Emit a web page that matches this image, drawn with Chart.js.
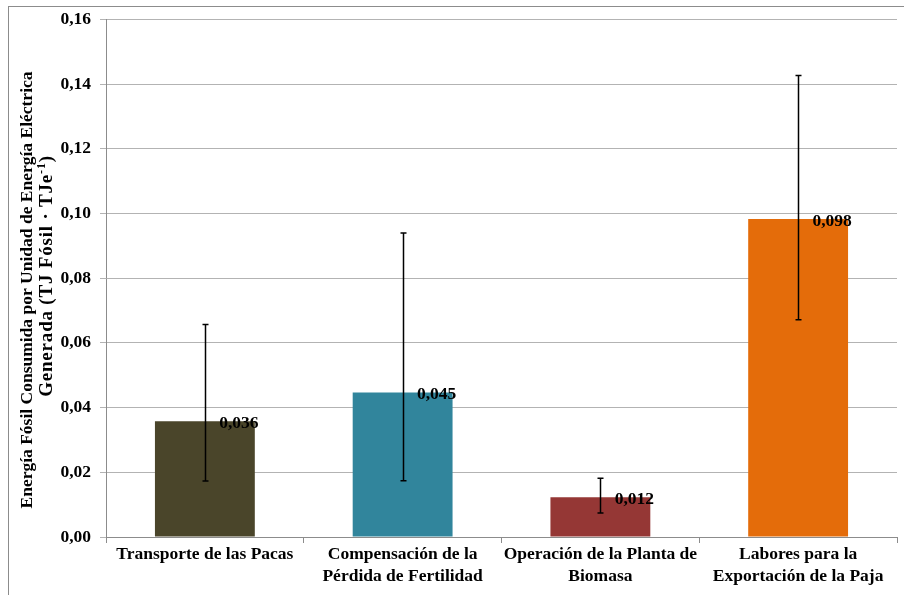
<!DOCTYPE html>
<html>
<head>
<meta charset="utf-8">
<script src="https://cdn.jsdelivr.net/npm/chart.js@4/dist/chart.umd.min.js"></script>
<style>
  body { margin: 0; background: #fff; }
  #wrap { position: relative; width: 904px; height: 595px; }
</style>
</head>
<body>
<div id="wrap"><canvas id="chart" width="904" height="595"></canvas></div>
<script>
let categories = [
  ["Transporte de las Pacas"],
  ["Compensación de la", "Pérdida de Fertilidad"],
  ["Operación de la Planta de", "Biomasa"],
  ["Labores para la", "Exportación de la Paja"]
];
let values = [0.0358, 0.0447, 0.0123, 0.0983];
let errLow = [0.0173, 0.0174, 0.0074, 0.0672];
let errHigh = [0.0657, 0.0940, 0.0182, 0.1427];
let barColors = ["#4A452A", "#31859C", "#953735", "#E46C0A"];
let yTitle = ["Energía Fósil Consumida por Unidad de Energía Eléctrica", "Generada (TJ Fósil · TJe", "-1", ")"];

const serif = "'Liberation Serif', 'Times New Roman', serif";
const fs = 17.5;

function fmt(v, d) {
  return v.toFixed(d).replace(".", ",");
}

// border around the whole chart, like the Excel chart frame
const frame = {
  id: "frame",
  beforeDraw(chart) {
    let ctx = chart.ctx;
    ctx.save();
    ctx.fillStyle = "#fff";
    ctx.fillRect(0, 0, chart.width, chart.height);
    ctx.strokeStyle = "#8c8c8c";
    ctx.lineWidth = 1;
    ctx.strokeRect(8.5, 6.5, chart.width + 20, chart.height + 20);
    ctx.restore();
  }
};

// error bars + value labels + y title
const extras = {
  id: "extras",
  afterDatasetsDraw(chart) {
    let ctx = chart.ctx;
    let y = chart.scales.y;
    let meta = chart.getDatasetMeta(0);
    ctx.save();
    ctx.strokeStyle = "#000";
    ctx.lineWidth = 1.5;
    meta.data.forEach((bar, i) => {
      let x = Math.round(bar.x) + 0.5;
      let top = y.getPixelForValue(errHigh[i]);
      let bot = y.getPixelForValue(errLow[i]);
      ctx.beginPath();
      ctx.moveTo(x, top);
      ctx.lineTo(x, bot);
      ctx.moveTo(x - 3, top);
      ctx.lineTo(x + 3, top);
      ctx.moveTo(x - 3, bot);
      ctx.lineTo(x + 3, bot);
      ctx.stroke();
    });
    ctx.fillStyle = "#000";
    ctx.font = "bold " + fs + "px " + serif;
    ctx.textAlign = "center";
    ctx.textBaseline = "middle";
    meta.data.forEach((bar, i) => {
      ctx.fillText(fmt(values[i], 3), bar.x + 34, bar.y + 2);
    });

    // y axis title (two lines, with superscript)
    ctx.translate(0, 290);
    ctx.rotate(-Math.PI / 2);
    ctx.textAlign = "center";
    ctx.textBaseline = "alphabetic";
    ctx.fillText(yTitle[0], 0, 32);
    let big = "bold 19px " + serif, small = "bold 12px " + serif;
    let a = yTitle[1], sup = yTitle[2], c = yTitle[3];
    ctx.letterSpacing = "0.8px";
    ctx.font = big;
    let wa = ctx.measureText(a).width;
    let wc = ctx.measureText(c).width;
    ctx.font = small;
    let ws = ctx.measureText(sup).width;
    let start = 14 - (wa + ws + wc) / 2;
    ctx.textAlign = "left";
    ctx.font = big;
    ctx.fillText(a, start, 52);
    ctx.fillText(c, start + wa + ws, 52);
    ctx.font = small;
    ctx.fillText(sup, start + wa, 45);
    ctx.restore();
  }
};

new Chart(document.getElementById("chart"), {
  type: "bar",
  data: {
    labels: categories,
    datasets: [{
      data: values,
      backgroundColor: barColors,
      borderWidth: 0,
      categoryPercentage: 0.505,
      barPercentage: 1
    }]
  },
  options: {
    responsive: false,
    animation: false,
    devicePixelRatio: 1,
    layout: { padding: { left: 0, top: 18, right: 7, bottom: 0 } },
    plugins: {
      legend: { display: false },
      tooltip: { enabled: false },
      title: { display: false }
    },
    scales: {
      y: {
        min: 0,
        max: 0.16,
        afterFit(scale) { scale.width = 106; },
        ticks: {
          stepSize: 0.02,
          padding: 9,
          color: "#000",
          font: { family: serif, size: fs, weight: "bold" },
          callback: (v) => fmt(v, 2)
        },
        grid: { color: "#b3b3b3", lineWidth: 1, tickLength: 6 },
        border: { color: "#8c8c8c" }
      },
      x: {
        afterFit(scale) { scale.height = 58; },
        ticks: {
          padding: 1,
          color: "#000",
          maxRotation: 0,
          autoSkip: false,
          font: { family: serif, size: fs, weight: "bold", lineHeight: 1.22 }
        },
        grid: { drawOnChartArea: false, color: "#8c8c8c", tickLength: 6, offset: true },
        border: { color: "#8c8c8c" }
      }
    }
  },
  plugins: [frame, extras]
});
</script>
</body>
</html>
